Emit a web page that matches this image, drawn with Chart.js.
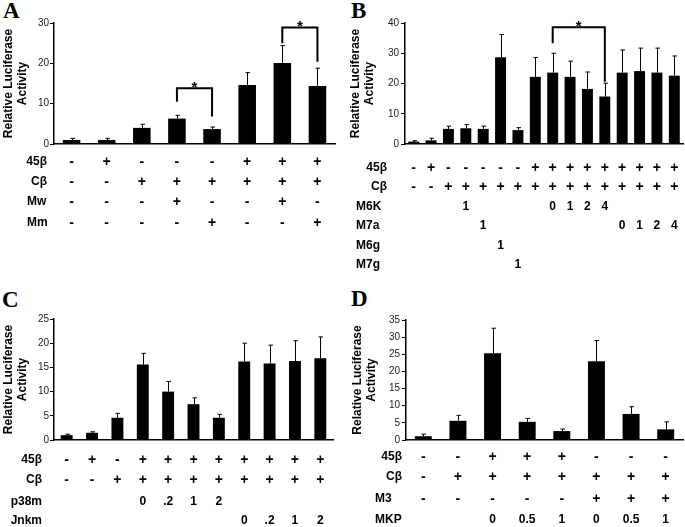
<!DOCTYPE html>
<html>
<head>
<meta charset="utf-8">
<script src="https://cdn.jsdelivr.net/npm/chart.js@4.4.1/dist/chart.umd.min.js"></script>
<style>
  html, body { margin: 0; padding: 0; background: #fff; }
  body { position: relative; width: 685px; height: 527px; overflow: hidden; font-family: "Liberation Sans", Arial, sans-serif; }
  canvas { position: absolute; }
  .letter { position: absolute; font: bold 23px/23px "Liberation Serif", "Times New Roman", serif; color: #000; }
</style>
</head>
<body>
<div class="letter" style="left:3px;top:-1px">A</div>
<div class="letter" style="left:351px;top:-1px">B</div>
<div class="letter" style="left:2px;top:288px">C</div>
<div class="letter" style="left:351px;top:287px">D</div>
<canvas id="cA" width="340" height="300" style="left:0;top:0"></canvas>
<canvas id="cB" width="345" height="300" style="left:340px;top:0"></canvas>
<canvas id="cC" width="340" height="227" style="left:0;top:300px"></canvas>
<canvas id="cD" width="345" height="227" style="left:340px;top:300px"></canvas>
<script>
// ---------- Panel A ----------
const catsA = ['1','2','3','4','5','6','7','8'];
const valuesA = [1.0, 1.0, 4.0, 6.3, 3.7, 14.6, 20.1, 14.4];
const errorsA = [0.4, 0.4, 0.9, 0.8, 0.5, 3.1, 4.3, 4.4];
const yTicksA = [0, 10, 20, 30];
const rowNamesA = ['45β', 'Cβ', 'Mw', 'Mm'];
const row45bA = ['-','+','-','-','-','+','+','+'];
const rowCbA  = ['-','-','+','+','+','+','+','+'];
const rowMwA  = ['-','-','-','+','-','-','+','-'];
const rowMmA  = ['-','-','-','-','+','-','-','+'];
// [from bar, to bar, bracket top, left leg end, right leg end]
const bracketsA = [[3, 4, 13.8, 10.5, 6.8], [6, 7, 28.9, 25.0, 20.4]];

// ---------- Panel B ----------
const catsB = ['1','2','3','4','5','6','7','8','9','10','11','12','13','14','15','16'];
const valuesB = [0.8, 1.2, 5.0, 5.2, 5.0, 28.7, 4.6, 22.2, 23.6, 22.2, 18.2, 15.7, 23.6, 24.1, 23.6, 22.6];
const errorsB = [0.3, 0.7, 0.9, 1.2, 0.9, 7.5, 0.8, 6.4, 6.4, 5.2, 5.6, 4.4, 7.5, 7.6, 8.1, 6.5];
const yTicksB = [0, 10, 20, 30, 40];
const rowNamesB = ['45β', 'Cβ', 'M6K', 'M7a', 'M6g', 'M7g'];
const row45bB = ['-','+','-','-','-','-','-','+','+','+','+','+','+','+','+','+'];
const rowCbB  = ['-','-','+','+','+','+','+','+','+','+','+','+','+','+','+','+'];
const rowM6KB = ['','','','1','','','','','0','1','2','4','','','',''];
const rowM7aB = ['','','','','1','','','','','','','','0','1','2','4'];
const rowM6gB = ['','','','','','1','','','','','','','','','',''];
const rowM7gB = ['','','','','','','1','','','','','','','','',''];
const bracketsB = [[8, 11, 38.6, 33.3, 20.6]];

// ---------- Panel C ----------
const catsC = ['1','2','3','4','5','6','7','8','9','10','11'];
const valuesC = [1.0, 1.5, 4.6, 15.6, 10.0, 7.4, 4.6, 16.2, 15.8, 16.3, 16.9];
const errorsC = [0.2, 0.2, 0.9, 2.3, 2.1, 1.3, 0.7, 3.8, 3.8, 4.2, 4.4];
const yTicksC = [0, 5, 10, 15, 20, 25];
const rowNamesC = ['45β', 'Cβ', 'p38m', 'Jnkm'];
const row45bC = ['-','+','-','+','+','+','+','+','+','+','+'];
const rowCbC  = ['-','-','+','+','+','+','+','+','+','+','+'];
const rowP38C = ['','','','0','.2','1','2','','','',''];
const rowJnkC = ['','','','','','','','0','.2','1','2'];

// ---------- Panel D ----------
const catsD = ['1','2','3','4','5','6','7','8'];
const valuesD = [1.1, 5.6, 25.3, 5.3, 2.6, 23.0, 7.6, 3.1];
const errorsD = [0.6, 1.6, 7.3, 1.0, 0.6, 6.0, 2.1, 2.2];
const yTicksD = [0, 5, 10, 15, 20, 25, 30, 35];
const rowNamesD = ['45β', 'Cβ', 'M3', 'MKP'];
const row45bD = ['-','-','+','+','+','-','-','-'];
const rowCbD  = ['-','+','+','+','+','+','+','+'];
const rowM3D  = ['-','-','-','-','-','+','+','+'];
const rowMkpD = ['','','0','0.5','1','0','0.5','1'];

Chart.defaults.font.family = '"Liberation Sans", Arial, sans-serif';

const panelPlugin = {
  id: 'panel',
  afterDatasetsDraw(chart, args, opts) {
    const ctx = chart.ctx, ys = chart.scales.y, xs = chart.scales.x;
    const meta = chart.getDatasetMeta(0);
    const vals = chart.data.datasets[0].data;
    ctx.save();
    ctx.strokeStyle = '#000';
    ctx.lineWidth = 1;
    opts.errors.forEach((e, i) => {
      const bar = meta.data[i];
      const yt = ys.getPixelForValue(vals[i] + e);
      const cx = Math.round(bar.x) + 0.5;
      ctx.beginPath();
      ctx.moveTo(cx, bar.y);
      ctx.lineTo(cx, yt);
      ctx.moveTo(cx - 2, yt);
      ctx.lineTo(cx + 2.5, yt);
      ctx.stroke();
    });
    ctx.lineWidth = 2;
    ctx.fillStyle = '#000';
    (opts.brackets || []).forEach(([a, b, top, la, lb]) => {
      const xa = xs.getPixelForValue(a), xb = xs.getPixelForValue(b);
      const yt = ys.getPixelForValue(top);
      ctx.beginPath();
      ctx.moveTo(xa, ys.getPixelForValue(la));
      ctx.lineTo(xa, yt);
      ctx.lineTo(xb, yt);
      ctx.lineTo(xb, ys.getPixelForValue(lb));
      ctx.stroke();
      ctx.font = 'bold 15px "Liberation Sans", Arial';
      ctx.textAlign = 'center';
      ctx.textBaseline = 'alphabetic';
      ctx.fillText('*', (xa + xb) / 2, yt + 4);
    });
    ctx.restore();
  },
  afterDraw(chart, args, opts) {
    const ctx = chart.ctx, xs = chart.scales.x;
    ctx.save();
    ctx.fillStyle = '#000';
    ctx.textBaseline = 'middle';
    opts.rows.forEach((row, r) => {
      const yy = opts.rowY[r];
      ctx.textAlign = 'center';
      row.forEach((t, i) => {
        if (!t) return;
        ctx.font = (t === '-' || t === '+') ? 'bold 14px "Liberation Sans", Arial' : 'bold 12px "Liberation Sans", Arial';
        ctx.fillText(t, xs.getPixelForValue(i), yy);
      });
      const [nx, al] = opts.namePos[r];
      ctx.font = 'bold 12px "Liberation Sans", Arial';
      ctx.textAlign = al;
      ctx.fillText(opts.rowNames[r], nx, yy);
    });
    ctx.restore();
  }
};

function makeChart(id, cfg) {
  return new Chart(document.getElementById(id), {
    type: 'bar',
    data: {
      labels: cfg.cats,
      datasets: [{
        data: cfg.values,
        backgroundColor: '#000',
        borderWidth: 0,
        barPercentage: cfg.barPct,
        categoryPercentage: 1
      }]
    },
    options: {
      responsive: false,
      animation: false,
      devicePixelRatio: 1,
      layout: { padding: { top: cfg.top, right: cfg.right, left: 0, bottom: 0 } },
      plugins: {
        legend: { display: false },
        tooltip: { enabled: false },
        panel: {
          errors: cfg.errors, brackets: cfg.brackets, rows: cfg.rows,
          rowNames: cfg.rowNames, rowY: cfg.rowY, namePos: cfg.namePos
        }
      },
      scales: {
        x: {
          grid: { display: false },
          border: { display: true, color: '#000', width: 1.5 },
          ticks: { display: false },
          afterFit(s) { s.height = cfg.xH; }
        },
        y: {
          min: 0, max: cfg.ticks[cfg.ticks.length - 1],
          afterBuildTicks(s) { s.ticks = cfg.ticks.map(v => ({ value: v })); },
          grid: { display: true, drawOnChartArea: false, drawTicks: true, tickLength: 4, color: '#000', lineWidth: 1 },
          border: { display: true, color: '#000', width: 1.5 },
          ticks: { font: { size: 10 }, color: '#222', padding: cfg.tickPad },
          title: {
            display: true,
            text: ['Relative Luciferase', 'Activity'],
            font: { size: 12, weight: 'bold' },
            color: '#000',
            padding: { top: cfg.titlePad, bottom: 0 }
          },
          afterFit(s) { s.width = cfg.yW; }
        }
      }
    },
    plugins: [panelPlugin]
  });
}

makeChart('cA', {
  cats: catsA, values: valuesA, errors: errorsA, ticks: yTicksA, brackets: bracketsA,
  barPct: 0.5, top: 23, right: 5, xH: 156, yW: 54, tickPad: 1, titlePad: 1,
  rows: [row45bA, rowCbA, rowMwA, rowMmA], rowNames: rowNamesA,
  rowY: [162, 182, 202, 223],
  namePos: [[47, 'right'], [47, 'right'], [27, 'left'], [27, 'left']]
});

makeChart('cB', {
  cats: catsB, values: valuesB, errors: errorsB, ticks: yTicksB, brackets: bracketsB,
  barPct: 0.63, top: 23, right: 2, xH: 156, yW: 65, tickPad: 2, titlePad: 8,
  rows: [row45bB, rowCbB, rowM6KB, rowM7aB, rowM6gB, rowM7gB], rowNames: rowNamesB,
  rowY: [168, 187, 207, 226, 246, 265],
  namePos: [[47, 'right'], [47, 'right'], [16, 'left'], [16, 'left'], [16, 'left'], [16, 'left']]
});

makeChart('cC', {
  cats: catsC, values: valuesC, errors: errorsC, ticks: yTicksC, brackets: [],
  barPct: 0.47, top: 19, right: 7, xH: 87, yW: 54, tickPad: 1, titlePad: 1,
  rows: [row45bC, rowCbC, rowP38C, rowJnkC], rowNames: rowNamesC,
  rowY: [160, 180, 202, 221],
  namePos: [[42, 'right'], [42, 'right'], [42, 'right'], [42, 'right']]
});

makeChart('cD', {
  cats: catsD, values: valuesD, errors: errorsD, ticks: yTicksD, brackets: [],
  barPct: 0.49, top: 20, right: 2, xH: 87, yW: 66, tickPad: 2, titlePad: 10,
  rows: [row45bD, rowCbD, rowM3D, rowMkpD], rowNames: rowNamesD,
  rowY: [157, 177, 199, 220],
  namePos: [[62, 'right'], [62, 'right'], [35, 'left'], [35, 'left']]
});
</script>
</body>
</html>
